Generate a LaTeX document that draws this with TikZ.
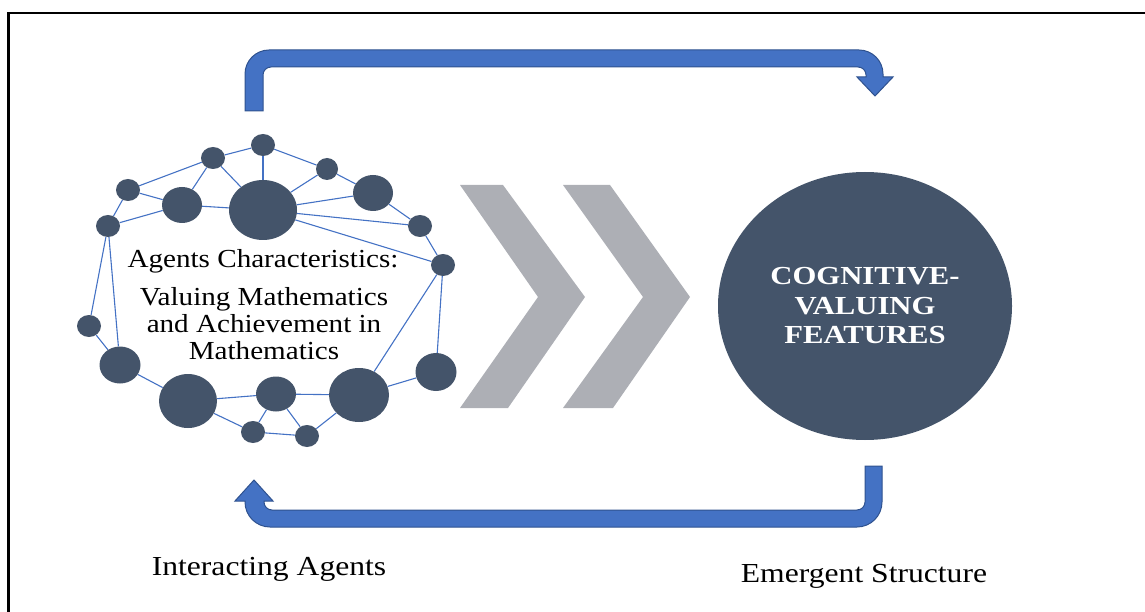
\documentclass[tikz,border=0pt]{standalone}
\usepackage{fontspec}
\setmainfont{Liberation Serif}
\newfontfamily\agentfont[FakeStretch=1.12]{Liberation Serif}
\newfontfamily\labelfont[FakeStretch=1.15]{Liberation Serif}
\newfontfamily\featurefont[FakeStretch=1.18]{Liberation Serif}
\usetikzlibrary{shapes.geometric,backgrounds}
\definecolor{agentfill}{RGB}{68,84,106}
\definecolor{linkblue}{RGB}{68,114,196}
\definecolor{arrowedge}{RGB}{47,82,143}
\definecolor{chevgrey}{RGB}{173,175,181}
\begin{document}
\begin{tikzpicture}[x=1pt,y=-1pt,
  agent/.style={ellipse,fill=agentfill,inner sep=0pt},
  smallagent/.style={agent,minimum width=24pt,minimum height=22pt},
  midagent/.style={agent,minimum width=40pt,minimum height=36pt},
  link/.style={draw=linkblue,line width=1.1pt},
  loop/.style={fill=linkblue,draw=arrowedge,line width=1pt,line join=miter},
  chevron/.style={fill=chevgrey},
  agenttext/.style={font=\agentfont\fontsize{26}{27}\selectfont,inner sep=0pt},
  caption/.style={font=\labelfont\fontsize{27.5}{30}\selectfont,inner sep=0pt,anchor=base}
]
\useasboundingbox (0,0) rectangle (1145,612);
% frame
\draw[line width=2.5pt] (8.5,612) -- (8.5,13) -- (1145,13);

% interacting agents
\node[smallagent] (n1) at (263,145) {};
\node[smallagent] (n2) at (213,158) {};
\node[smallagent,minimum width=22pt] (n3) at (327,169) {};
\node[smallagent] (n4) at (128,190) {};
\node[midagent] (n5) at (182,205) {};
\node[agent,minimum width=68pt,minimum height=60pt] (n6) at (263,210) {};
\node[midagent] (n7) at (373,193) {};
\node[smallagent] (n8) at (108,226) {};
\node[smallagent] (n9) at (420,226) {};
\node[smallagent] (n10) at (443,265) {};
\node[smallagent] (n11) at (89,326) {};
\node[midagent,minimum width=41pt,minimum height=37pt] (n12) at (120,365) {};
\node[midagent,minimum width=41pt,minimum height=38pt] (n13) at (436,372) {};
\node[agent,minimum width=58pt,minimum height=54pt] (n14) at (188,401) {};
\node[midagent,minimum height=35pt] (n15) at (276,394) {};
\node[agent,minimum width=60pt,minimum height=54pt] (n16) at (359,395) {};
\node[smallagent] (n17) at (253,432) {};
\node[smallagent] (n18) at (307,436) {};

% links between agents, kept behind the agents
\begin{scope}[on background layer]
  \foreach \a/\b in {n2/n1,n1/n6,n1/n3,n2/n4,n2/n5,n2/n6,n3/n6,n3/n7,
                     n4/n5,n4/n8,n5/n8,n5/n6,n6/n7,n6/n9,n6/n10,n7/n9,
                     n9/n10,n8/n11,n8/n12,n11/n12,n10/n16,n10/n13,
                     n12/n14,n14/n15,n14/n17,n15/n16,n15/n17,n15/n18,
                     n17/n18,n18/n16,n16/n13}
    \draw[link] (\a) -- (\b);
\end{scope}

\node[agenttext,anchor=base] (head) at (263,267) {Agents Characteristics:};
\node[agenttext,align=center] (body) at (264,324)
  {Valuing Mathematics\\and Achievement in\\Mathematics};

% progression chevrons
\fill[chevron] (460,185) -- (503,185) -- (585,297) -- (508,408) -- (460,408) -- (538,297) -- cycle;
\fill[chevron] (563,185) -- (610,185) -- (690,297) -- (613,408) -- (563,408) -- (643,297) -- cycle;

% emergent structure
\node[agent,minimum width=294pt,minimum height=268pt,text=white,align=center,
      font=\featurefont\bfseries\fontsize{26}{29.5}\selectfont] (cvf) at (865,306)
  {COGNITIVE-\\VALUING\\FEATURES};

% feedback arrows
\filldraw[loop] (245,111) [rounded corners=24pt] -- (245,50) -- (883,50)
  [sharp corners] -- (883,77) -- (893,77) -- (875,96) -- (857,77) -- (866,77)
  [rounded corners=8pt] -- (866,67) -- (263,67) [sharp corners] -- (263,111) -- cycle;
\filldraw[loop] (882,466) [rounded corners=25pt] -- (882,527) -- (245,527)
  [sharp corners] -- (245,501) -- (235,501) -- (254,480) -- (273,501) -- (264,501)
  [rounded corners=8pt] -- (264,510) -- (865,510) [sharp corners] -- (865,466) -- cycle;

\node[caption] (ia) at (269,575) {Interacting Agents};
\node[caption] (es) at (864,582) {Emergent Structure};
\end{tikzpicture}
\end{document}
